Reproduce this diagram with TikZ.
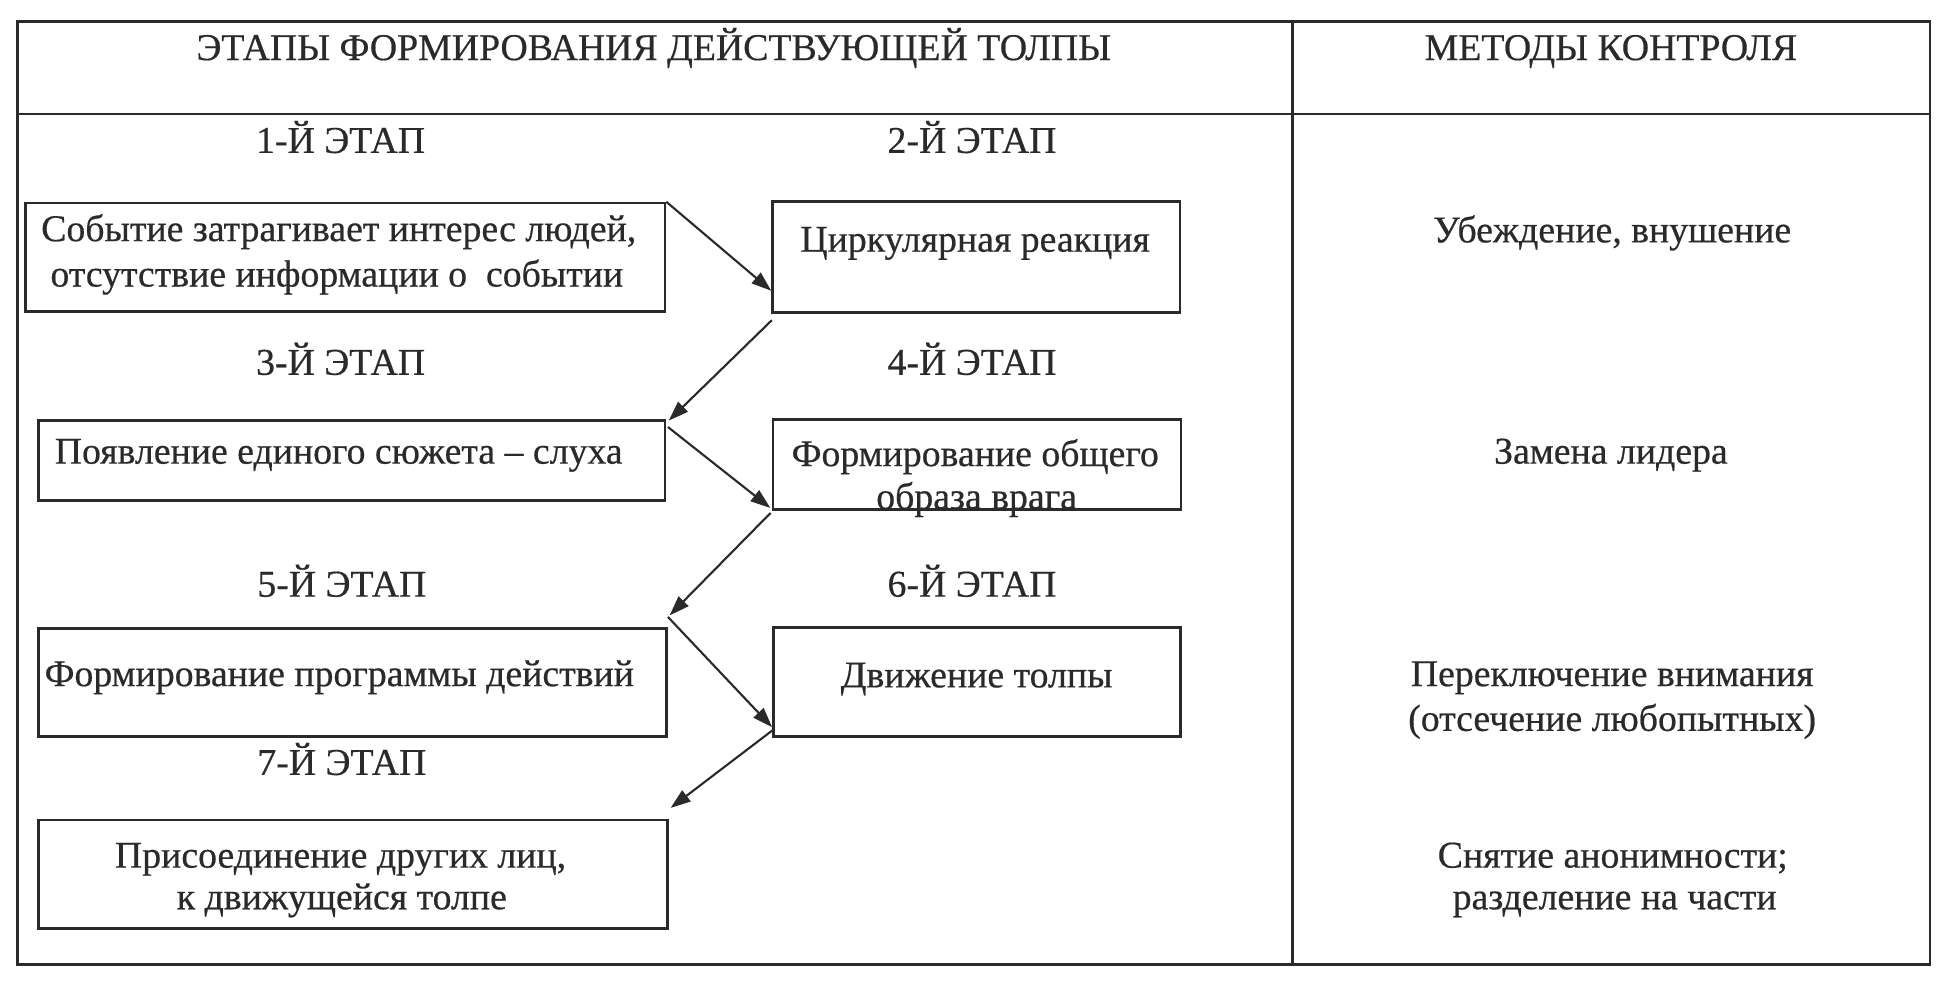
\documentclass[tikz,border=0pt]{standalone}
\usepackage{fontspec}
\newfontfamily\scanfont[FakeBold=0.5]{Liberation Serif}
\usetikzlibrary{arrows.meta,calc}
\definecolor{ink}{HTML}{2A2A2A}
\begin{document}
\begin{tikzpicture}[x=1pt,y=-1pt,
  every node/.style={text=ink, font=\scanfont\fontsize{30.4}{36}\selectfont},
  box/.style={draw=ink, line width=2.1pt, rectangle, inner sep=0pt},
  txt/.style={anchor=base, inner sep=0pt},
  rule/.style={draw=ink, line width=2pt},
  arr/.style={draw=ink, line width=1.7pt, -{Triangle[length=16pt,width=11pt]}}]
\useasboundingbox[fill=white] (0,0) rectangle (1568,794.1);

% outer frame and table rules
\node[box, minimum width=1538.7pt, minimum height=758.5pt] (frame) at (783.35,396.75) {};
\coordinate (hl) at (0,91.7);
\coordinate (cd) at (1040,0);
\draw[rule] (frame.west |- hl) -- (frame.east |- hl);
\draw[rule] (frame.north -| cd) -- (frame.south -| cd);

% header
\node[txt] (h1) at (526,48.3) {ЭТАПЫ ФОРМИРОВАНИЯ ДЕЙСТВУЮЩЕЙ ТОЛПЫ};
\node[txt] (h2) at (1296,48.3) {МЕТОДЫ КОНТРОЛЯ};

% stage labels
\node[txt] (s1) at (274,123) {1-Й ЭТАП};
\node[txt] (s2) at (782,123) {2-Й ЭТАП};
\node[txt] (s3) at (274,301.5) {3-Й ЭТАП};
\node[txt] (s4) at (782,301.5) {4-Й ЭТАП};
\node[txt] (s5) at (275,480) {5-Й ЭТАП};
\node[txt] (s6) at (782,480) {6-Й ЭТАП};
\node[txt] (s7) at (275,623.4) {7-Й ЭТАП};

% boxes
\node[box, minimum width=514.5pt, minimum height=87.3pt] (b1) at (277.75,207.05) {};
\node[box, minimum width=327.9pt, minimum height=89.2pt] (b2) at (785.5,206.9) {};
\node[box, minimum width=504pt, minimum height=64.4pt] (b3) at (283,370.6) {};
\node[box, minimum width=328pt, minimum height=72.5pt] (b4) at (786,373.75) {};
\node[box, minimum width=505.3pt, minimum height=87.2pt] (b5) at (283.65,549.1) {};
\node[box, minimum width=327.7pt, minimum height=88pt] (b6) at (786.1,548.7) {};
\node[box, minimum width=506pt, minimum height=87.3pt] (b7) at (284,703.35) {};

% box texts
\node[txt] (t1a) at (272.5,194) {Событие затрагивает интерес людей,};
\node[txt] (t1b) at (271,230.5) {отсутствие информации о~ событии};
\node[txt] (t2) at (784.5,202.5) {Циркулярная реакция};
\node[txt] (t3) at (272.5,373) {Появление единого сюжета – слуха};
\node[txt] (t4a) at (784.6,375) {Формирование общего};
\node[txt] (t4b) at (785.7,409.5) {образа врага};
\node[txt] (t5) at (273,552) {Формирование программы действий};
\node[txt] (t6) at (785.7,553) {Движение толпы};
\node[txt] (t7a) at (274,698) {Присоединение других лиц,};
\node[txt] (t7b) at (275,731.5) {к движущейся толпе};

% control methods
\node[txt] (r1) at (1297,195) {Убеждение, внушение};
\node[txt] (r2) at (1296,373) {Замена лидера};
\node[txt] (r3a) at (1297,552) {Переключение внимания};
\node[txt] (r3b) at (1297,588) {(отсечение любопытных)};
\node[txt] (r4a) at (1297.5,698) {Снятие анонимности;};
\node[txt] (r4b) at (1299,731.5) {разделение на части};

% arrows
\draw[arr] (b1.north east) -- ($(b2.north west)!0.796!(b2.south west)$);
\draw[arr] ($(b2.south west)+(0.4,5.1)$) -- ($(b3.north east)+(2,1)$);
\draw[arr] ($(b3.north east)+(1.3,6.2)$) -- ($(b4.south west)+(-1.2,-2.4)$);
\draw[arr] ($(b4.south west)+(-1,1.6)$) -- ($(b5.north east)+(1.4,-9.4)$);
\draw[arr] ($(b5.north east)+(0,-8.1)$) -- ($(b6.south west)+(0,-8.7)$);
\draw[arr] ($(b6.south west)+(0,-6)$) -- ($(b7.north east)+(1.5,-8.7)$);
\end{tikzpicture}
\end{document}
